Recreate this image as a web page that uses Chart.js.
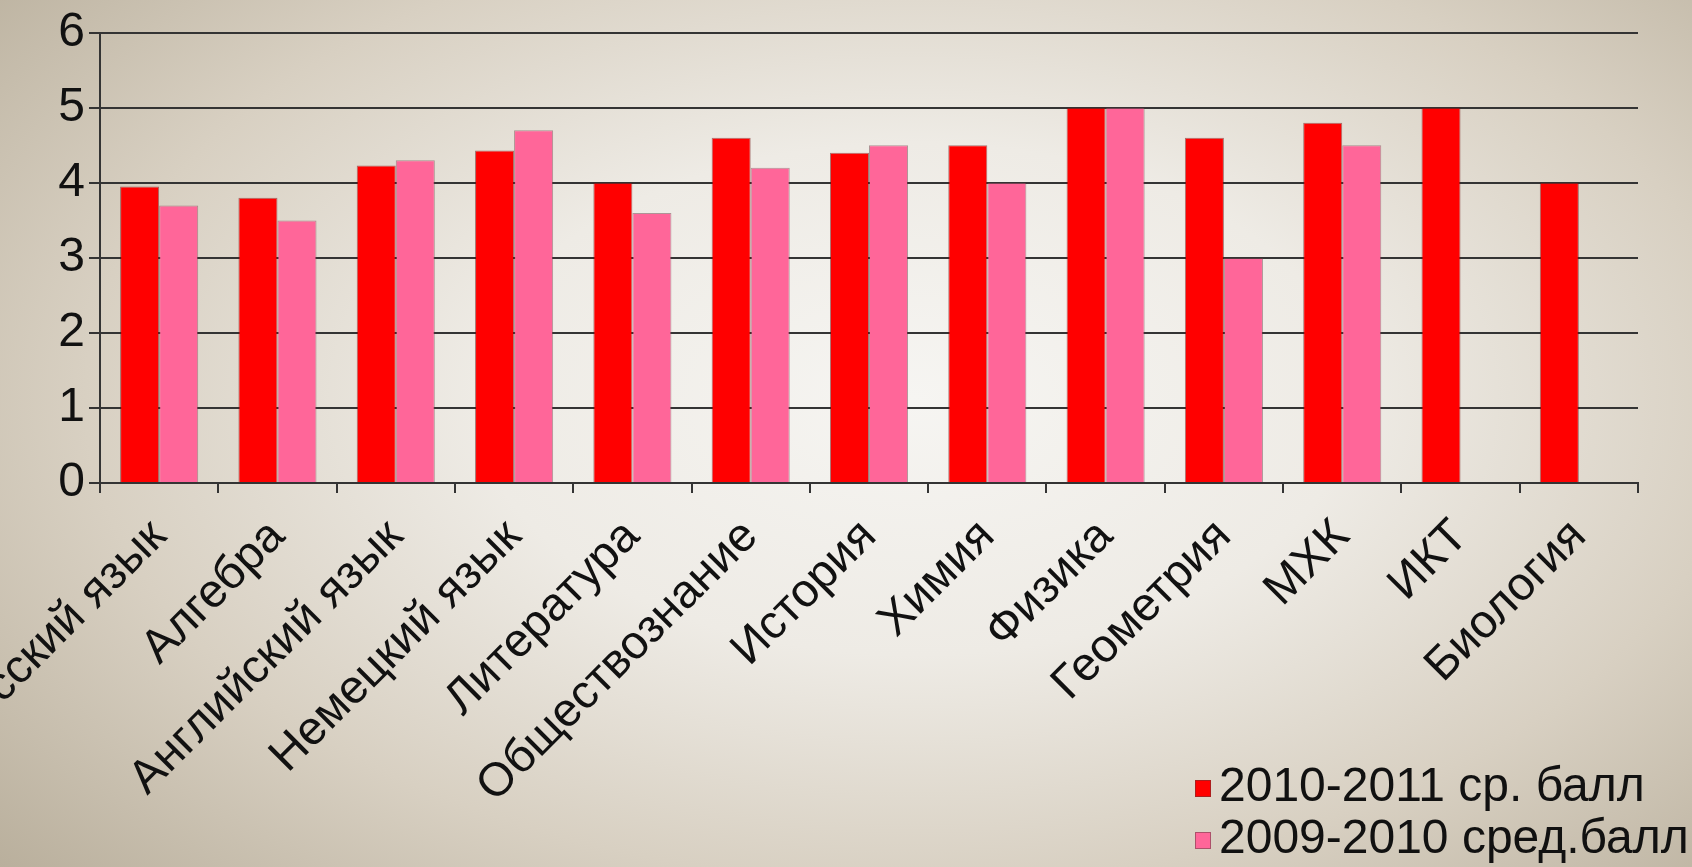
<!DOCTYPE html>
<html>
<head>
<meta charset="utf-8">
<script src="https://cdn.jsdelivr.net/npm/chart.js@4"></script>
<style>
  html, body { margin: 0; padding: 0; }
  body {
    width: 1692px; height: 867px; overflow: hidden;
    background: radial-gradient(ellipse 72% 82% at 54% 46%, #f6f5f2 0%, #eeebe5 36%, #d8d0c2 68%, #b9af9c 100%);
  }
  #wrap { position: absolute; left: 0; top: 0; width: 1692px; height: 867px; }
</style>
</head>
<body>
<div id="wrap"><canvas id="chart" width="1692" height="867"></canvas></div>
<script>
// Данные диаграммы
const subjects = ['Русский язык', 'Алгебра', 'Английский язык', 'Немецкий язык', 'Литература',
    'Обществознание', 'История', 'Химия', 'Физика', 'Геометрия', 'МХК', 'ИКТ', 'Биология'];
const score2011 = [3.95, 3.8, 4.23, 4.43, 4.0, 4.6, 4.4, 4.5, 5.0, 4.6, 4.8, 5.0, 4.0];
const score2010 = [3.7, 3.5, 4.3, 4.7, 3.6, 4.2, 4.5, 4.0, 5.0, 3.0, 4.5, null, null];
const seriesNames = ['2010-2011 ср. балл', '2009-2010 сред.балл'];
const yTicks = [0, 1, 2, 3, 4, 5, 6];

const FONT = '"Liberation Sans", Arial, sans-serif';
const lineColor = '#343434';

// Легенда справа внизу, столбиком
const sideLegend = {
    id: 'sideLegend',
    afterDraw(chart) {
        const ctx = chart.ctx;
        ctx.save();
        ctx.font = '48px ' + FONT;
        ctx.textBaseline = 'middle';
        chart.data.datasets.forEach((ds, i) => {
            const y = 788 + i * 52;
            ctx.fillStyle = ds.backgroundColor;
            ctx.fillRect(1195, y - 8, 16, 17);
            ctx.strokeStyle = 'rgba(90,60,60,0.5)';
            ctx.lineWidth = 1;
            ctx.strokeRect(1195.5, y - 7.5, 15, 16);
            ctx.fillStyle = '#111';
            ctx.fillText(ds.label, 1219, y);
        });
        ctx.restore();
    }
};

new Chart(document.getElementById('chart'), {
    type: 'bar',
    data: {
        labels: subjects,
        datasets: [{
            label: seriesNames[0],
            data: score2011,
            backgroundColor: '#ff0000',
            borderColor: 'rgba(110,20,20,0.55)',
            borderWidth: 1
        }, {
            label: seriesNames[1],
            data: score2010,
            backgroundColor: '#ff6699',
            borderColor: 'rgba(110,60,70,0.5)',
            borderWidth: 1
        }]
    },
    options: {
        responsive: false,
        animation: false,
        devicePixelRatio: 1,
        layout: { padding: { top: 32, right: 54, left: 0, bottom: 0 } },
        datasets: { bar: { categoryPercentage: 0.66, barPercentage: 1.0 } },
        plugins: {
            legend: { display: false },
            tooltip: { enabled: false }
        },
        scales: {
            x: {
                grid: {
                    display: true,
                    drawOnChartArea: false,
                    drawTicks: true,
                    tickLength: 10,
                    color: lineColor,
                    lineWidth: 2
                },
                border: { display: true, color: lineColor, width: 2 },
                ticks: {
                    minRotation: 45,
                    maxRotation: 45,
                    autoSkip: false,
                    padding: 16,
                    color: '#111',
                    font: { family: FONT, size: 47 }
                },
                afterFit: (scale) => {
                    scale.height = 384;
                    scale.paddingLeft = 0;
                    scale.paddingRight = 0;
                }
            },
            y: {
                min: 0,
                max: 6,
                afterBuildTicks: (scale) => {
                    scale.ticks = yTicks.map(v => ({ value: v }));
                },
                grid: {
                    color: lineColor,
                    lineWidth: 2,
                    tickLength: 11
                },
                border: { display: true, color: lineColor, width: 2 },
                ticks: {
                    padding: 4,
                    color: '#111',
                    font: { family: FONT, size: 48 }
                },
                afterFit: (scale) => {
                    scale.width = 100;
                }
            }
        }
    },
    plugins: [sideLegend]
});
</script>
</body>
</html>
